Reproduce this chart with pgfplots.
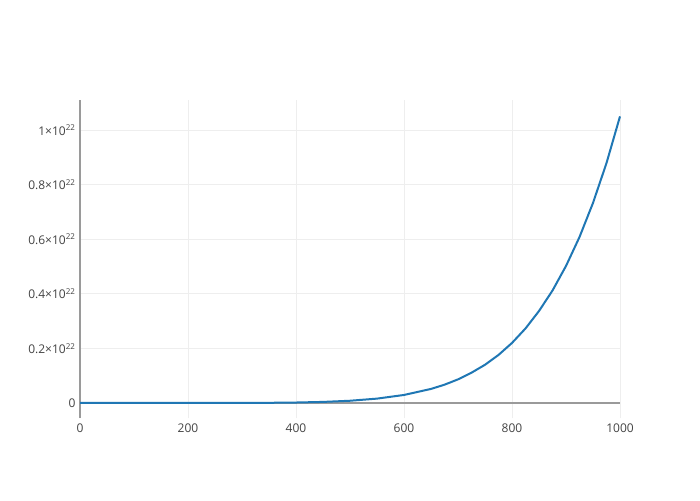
\documentclass[border=0pt]{standalone}
\usepackage{pgfplots}
\pgfplotsset{compat=1.18}
\usepackage{fontspec}
\setmainfont{Open Sans}
\definecolor{plotblue}{HTML}{1F77B4}
\definecolor{ticktext}{HTML}{444444}
\definecolor{gridc}{HTML}{EEEEEE}
\definecolor{axisc}{HTML}{9A9A9A}
\begin{document}
\begin{tikzpicture}
\path[fill=white] (0pt,0pt) rectangle (700pt,500pt);
\begin{axis}[
  at={(80pt,82pt)}, anchor=south west,
  scale only axis, width=540pt, height=318pt,
  xmin=0, xmax=1000, ymin=-0.055e22, ymax=1.11e22,
  axis line style={draw=none},
  major tick length=0pt,
  xtick={0,200,400,600,800,1000},
  ytick={0,0.2e22,0.4e22,0.6e22,0.8e22,1e22},
  yticklabels={0, 0.2×10\textsuperscript{22}, 0.4×10\textsuperscript{22}, 0.6×10\textsuperscript{22}, 0.8×10\textsuperscript{22}, 1×10\textsuperscript{22}},
  scaled y ticks=false, scaled x ticks=false,
  /pgf/number format/assume math mode=true,
  /pgf/number format/1000 sep={},
  tick label style={font=\fontsize{12}{14}\selectfont, text=ticktext},
  xticklabel style={yshift=-2pt},
  yticklabel style={xshift=-1pt},
  grid=major, major grid style={color=gridc, line width=1pt},
  clip=false,
]
\draw[axisc, line width=2pt] (axis cs:0,0) -- (axis cs:1000,0);
\draw[axisc, line width=2pt] (rel axis cs:0,0) -- (rel axis cs:0,1);
\addplot[plotblue, line width=2pt, line join=round] coordinates {
(0,0) (50,0) (100,1.05e15) (150,1.8e16) (200,1.34e17) (250,6.4e17)
(300,2.30e18) (350,6.75e18) (400,1.72e19) (450,3.92e19) (500,8.20e19)
(550,1.60e20) (600,2.94e20) (650,5.15e20) (675,6.70e20) (700,8.65e20)
(725,1.11e21) (750,1.40e21) (775,1.76e21) (800,2.20e21) (825,2.73e21)
(850,3.37e21) (875,4.12e21) (900,5.02e21) (925,6.08e21) (950,7.33e21)
(975,8.79e21) (1000,1.05e22)
};
\end{axis}
\end{tikzpicture}
\end{document}
